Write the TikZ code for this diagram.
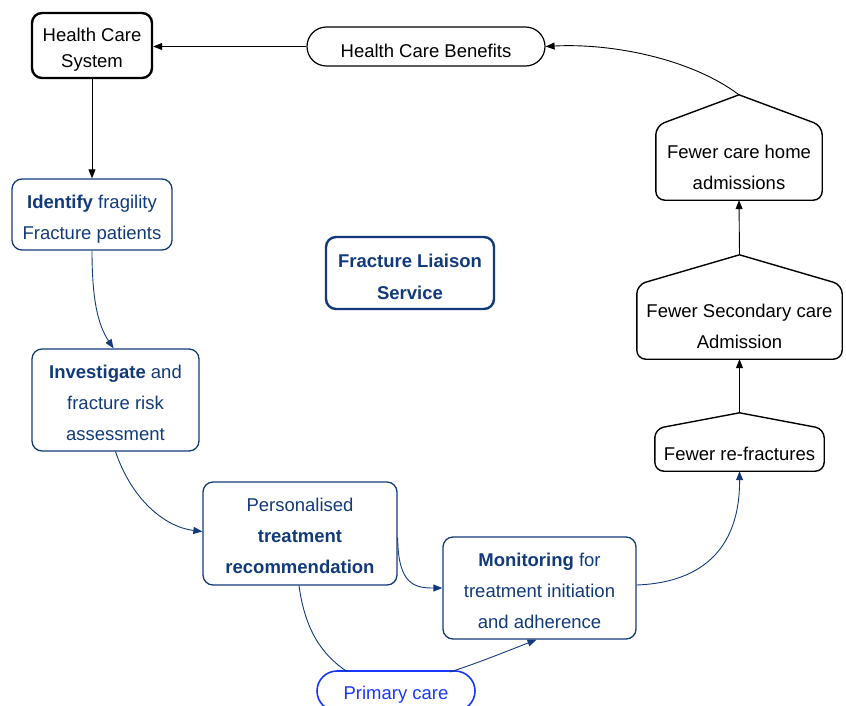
\documentclass[tikz,border=0pt]{standalone}
\usepackage{fontspec}
\setmainfont{Liberation Sans}
\usetikzlibrary{arrows.meta,calc}
\definecolor{navy}{RGB}{18,58,122}
\definecolor{pcblue}{RGB}{25,55,250}
\begin{document}
\begin{tikzpicture}[x=1pt,y=-1pt,
  every node/.style={font=\fontsize{18.5}{31}\selectfont, align=center, inner sep=0pt},
  txt/.style={label={[yshift=-4pt, font=\fontsize{18.5}{31}\selectfont, align=center, inner sep=0pt]center:{#1}}},
  bluebox/.style={draw=navy, line width=1.3pt, rounded corners=10pt, text=navy},
  blackbox/.style={draw=black, line width=1.4pt, rounded corners=10pt},
  housebody/.style={draw=none},
  houseline/.style={draw=black, line width=1.4pt, rounded corners=9pt, line join=round, line cap=round},
  blk/.style={draw=black, line width=0.9pt, -{Triangle[length=9pt,width=7pt]}},
  blu/.style={draw=navy, line width=0.9pt, -{Triangle[length=9pt,width=7pt]}},
  bluplain/.style={draw=navy, line width=0.9pt}
]
\useasboundingbox (0,0) rectangle (846,705);

% Top row
\node[blackbox, line width=2.4pt, minimum width=120pt, minimum height=65pt,
  label={[yshift=-4.5pt, font=\fontsize{18.5}{26}\selectfont, align=center]center:{Health Care\\System}}]
  (hcs) at (92,45.5) {};
\node[draw=black, line width=1.2pt, rounded corners=19.5pt, minimum width=238pt, minimum height=39pt,
  txt={Health Care Benefits}] (hcb) at (426,46.5) {};

% Right column (house shapes)
\node[housebody, minimum width=166pt, minimum height=74pt, txt={Fewer care home\\admissions}] (ch) at (739,163) {};
\coordinate (chp) at ($(ch.north)+(0,-31)$);
\draw[houseline] (chp) -- (ch.north east) -- (ch.south east) -- (ch.south west) -- (ch.north west) -- (chp);

\node[housebody, minimum width=205pt, minimum height=74pt, txt={Fewer Secondary care\\Admission}] (sc) at (739.5,322) {};
\coordinate (scp) at ($(sc.north)+(0,-30)$);
\draw[houseline] (scp) -- (sc.north east) -- (sc.south east) -- (sc.south west) -- (sc.north west) -- (scp);

\node[housebody, minimum width=169pt, minimum height=42pt, txt={Fewer re-fractures}] (rf) at (739.5,450) {};
\coordinate (rfp) at ($(rf.north)+(0,-16)$);
\draw[houseline] (rfp) -- (rf.north east) -- (rf.south east) -- (rf.south west) -- (rf.north west) -- (rfp);

% Left / bottom blue chain
\node[bluebox, minimum width=160pt, minimum height=71pt,
  label={[yshift=-4.5pt, text=navy, align=center]center:{\textbf{Identify} fragility\\Fracture patients}}]
  (id) at (92,214.5) {};
\node[bluebox, minimum width=167pt, minimum height=102pt,
  label={[yshift=-3pt, text=navy, align=center]center:{\textbf{Investigate} and\\fracture risk\\assessment}}]
  (inv) at (115.5,400) {};
\node[bluebox, minimum width=194pt, minimum height=103pt,
  label={[yshift=-2pt, text=navy, align=center]center:{Personalised\\\textbf{treatment}\\\textbf{recommendation}}}]
  (per) at (300,533.5) {};
\node[bluebox, minimum width=193pt, minimum height=102pt,
  label={[yshift=-3pt, text=navy, align=center]center:{\textbf{Monitoring} for\\treatment initiation\\and adherence}}]
  (mon) at (539.5,588) {};
\node[draw=pcblue, line width=1.6pt, rounded corners=20pt, minimum width=158pt, minimum height=40pt,
  label={[yshift=-4pt, text=pcblue]center:{Primary care}}]
  (pc) at (396,691) {};

% Centre
\node[bluebox, line width=2.4pt, minimum width=168pt, minimum height=72pt,
  label={[yshift=-4pt, text=navy, align=center, font=\bfseries\fontsize{18.5}{32}\selectfont]center:{Fracture Liaison\\Service}}]
  (fls) at (410,273) {};

% Connectors
\draw[blk] (hcb.west) -- (hcs.east |- hcb.west);
\draw[blk] (hcs.south) -- (id.north);
\draw[blk] (chp) .. controls (690,58) and (610,43) .. (hcb.east);
\draw[blk] (scp) -- (ch.south);
\draw[blk] (rfp) -- (sc.south);

\draw[blu] (id.south) .. controls (92,300) and (98,325) .. ($(inv.north)+(-2,0)$);
\draw[blu] (inv.south) .. controls (132,500) and (165,527) .. ($(per.west)+(0,-2)$);
\coordinate (perR) at ($(per.east)+(0,4)$);
\draw[blu] (perR) .. controls (398,585) and (415,588) .. (mon.west);
\draw[blu] ($(mon.east)+(0,-3)$) .. controls (715,582) and (740,535) .. (rf.south);
\coordinate (pcL) at (347,671.5);
\coordinate (pcR) at (450,672);
\draw[bluplain] ($(per.south)+(-1,0)$) .. controls (305,630) and (322,655) .. (pcL);
\draw[blu] (pcR) .. controls (475,664) and (505,652) .. ($(mon.south)+(-3,0)$);
\end{tikzpicture}
\end{document}
